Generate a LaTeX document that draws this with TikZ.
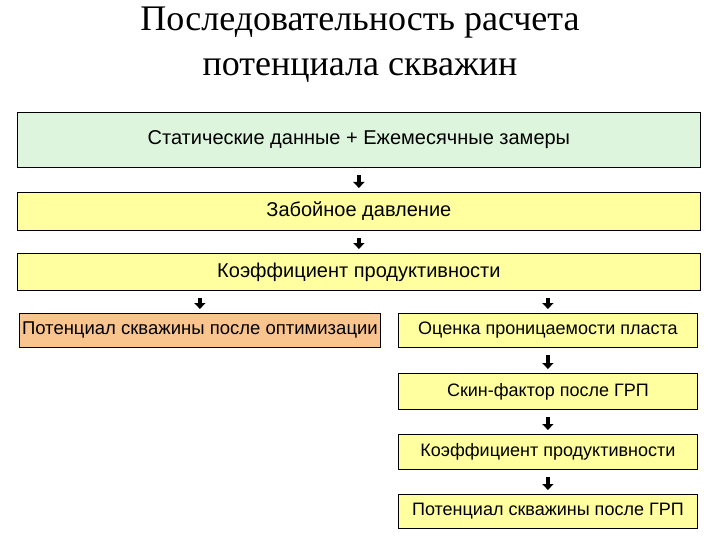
\documentclass[tikz,border=0pt]{standalone}
\usepackage{fontspec}
\setmainfont{Liberation Serif}
\newfontfamily\arial{Liberation Sans}
\usetikzlibrary{arrows.meta}
\definecolor{gr}{HTML}{DDF5DD}
\definecolor{ye}{HTML}{FFFF9F}
\definecolor{orb}{HTML}{FAC48F}
\begin{document}
\begin{tikzpicture}[x=1pt,y=-1pt,
  box/.style={draw=black,line width=0.8pt,anchor=north west,inner sep=0pt,font=\arial\fontsize{18}{21}\selectfont},
  big/.style={font=\arial\fontsize{20}{23}\selectfont},
  arr/.style={line width=4pt,-{Triangle[width=11pt,length=6pt]},shorten <=7pt,shorten >=4pt}]
\useasboundingbox (0,0) rectangle (720,540);
\node[font=\fontsize{36}{45}\selectfont,align=center] (title) at (360,45) {Последовательность расчета\\потенциала скважин};
\node[box,big,fill=gr,minimum width=683pt,minimum height=55pt] (b1) at (17,112) {\raisebox{4pt}{Статические данные + Ежемесячные замеры}};
\node[box,big,fill=ye,minimum width=683pt,minimum height=38pt] (b2) at (17,192) {Забойное давление};
\node[box,big,fill=ye,minimum width=683pt,minimum height=37pt] (b3) at (17,253) {Коэффициент продуктивности};
\node[box,fill=orb,minimum width=361pt,minimum height=34pt,font=\arial\fontsize{18.5}{21}\selectfont] (b4) at (19,313) {Потенциал скважины после оптимизации};
\node[box,fill=ye,minimum width=299pt,minimum height=34pt] (b5) at (398,313) {Оценка проницаемости пласта};
\node[box,fill=ye,minimum width=299pt,minimum height=36pt] (b6) at (398,373) {Скин-фактор после ГРП};
\node[box,fill=ye,minimum width=299pt,minimum height=35pt] (b7) at (398,434) {Коэффициент продуктивности};
\node[box,fill=ye,minimum width=299pt,minimum height=34pt] (b8) at (398,494) {Потенциал скважины после ГРП};
\draw[arr] (b1.south) -- (b2.north);
\draw[arr] (b2.south) -- (b3.north);
\draw[arr] (b4.north|-b3.south) -- (b4.north);
\draw[arr] (b5.north|-b3.south) -- (b5.north);
\draw[arr] (b5.south) -- (b6.north);
\draw[arr] (b6.south) -- (b7.north);
\draw[arr] (b7.south) -- (b8.north);
\end{tikzpicture}
\end{document}
